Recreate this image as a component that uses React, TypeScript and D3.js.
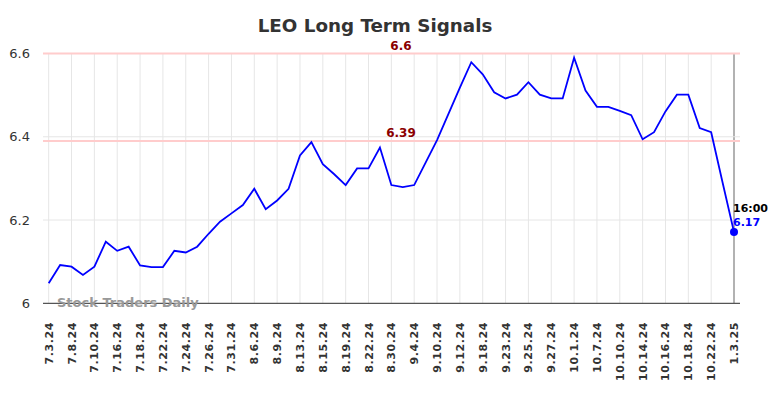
import React, { useEffect, useRef } from "react";
import * as d3 from "d3";

const title = "LEO Long Term Signals";

// one label for every other point
const tickLabels = [
  "7.3.24", "7.8.24", "7.10.24", "7.16.24", "7.18.24", "7.22.24", "7.24.24", "7.26.24",
  "7.31.24", "8.6.24", "8.9.24", "8.13.24", "8.15.24", "8.19.24", "8.22.24", "8.30.24",
  "9.4.24", "9.10.24", "9.12.24", "9.18.24", "9.23.24", "9.25.24", "9.27.24", "10.1.24",
  "10.7.24", "10.10.24", "10.14.24", "10.16.24", "10.18.24", "10.22.24", "1.3.25",
];

const prices = [
  6.048, 6.092, 6.088, 6.068, 6.088, 6.148, 6.126, 6.136, 6.091, 6.087,
  6.087, 6.126, 6.122, 6.136, 6.167, 6.196, 6.216, 6.236, 6.275, 6.226,
  6.247, 6.275, 6.355, 6.387, 6.334, 6.31, 6.284, 6.324, 6.324, 6.374,
  6.284, 6.279, 6.284, 6.338, 6.392, 6.455, 6.518, 6.579, 6.55, 6.507,
  6.492, 6.501, 6.531, 6.501, 6.492, 6.492, 6.59, 6.511, 6.472, 6.472,
  6.462, 6.452, 6.394, 6.411, 6.461, 6.501, 6.501, 6.421, 6.411, 6.29,
  6.171,
];

const yTicks = [6, 6.2, 6.4, 6.6];
const signals = [6.6, 6.39];
const lastTime = "16:00";
const lastPrice = "6.17";

export default function App() {
  const svgRef = useRef<SVGSVGElement>(null);

  useEffect(() => {
    const svg = d3.select(svgRef.current);
    svg.selectAll("*").remove();

    const left = 43, right = 740, top = 53.5, bottom = 303.3;

    const x = d3.scaleLinear().domain([0, prices.length - 1]).range([48.7, 734]);
    const y = d3.scaleLinear().domain([6, 6.6]).range([bottom, top]);

    // title
    svg.append("text")
      .attr("x", 375).attr("y", 32)
      .attr("text-anchor", "middle")
      .style("font-family", "DejaVu Sans, sans-serif")
      .style("font-size", "18.3px").style("font-weight", "bold")
      .attr("fill", "#333")
      .text(title);

    // vertical grid
    svg.append("g").selectAll("line")
      .data(tickLabels)
      .enter().append("line")
      .attr("x1", (d, i) => x(i * 2)).attr("x2", (d, i) => x(i * 2))
      .attr("y1", top).attr("y2", bottom)
      .attr("stroke", (d, i) => i === tickLabels.length - 1 ? "#999" : "#e6e6e6")
      .attr("stroke-width", (d, i) => i === tickLabels.length - 1 ? 1.5 : 1);

    // horizontal grid
    svg.append("g").selectAll("line")
      .data(yTicks.filter(t => t > 6))
      .enter().append("line")
      .attr("x1", left).attr("x2", right)
      .attr("y1", d => y(d)).attr("y2", d => y(d))
      .attr("stroke", "#e6e6e6");

    // signal lines
    svg.append("g").selectAll("line")
      .data(signals)
      .enter().append("line")
      .attr("x1", left).attr("x2", right)
      .attr("y1", d => y(d)).attr("y2", d => y(d))
      .attr("stroke", "#ffcccc").attr("stroke-width", 2);

    svg.append("g").selectAll("text")
      .data(signals)
      .enter().append("text")
      .attr("x", 401).attr("y", d => y(d) - 4)
      .attr("text-anchor", "middle")
      .style("font-family", "DejaVu Sans, sans-serif")
      .style("font-size", "12px").style("font-weight", "bold")
      .attr("fill", "#8b0000")
      .text(d => d);

    // x axis line
    svg.append("line")
      .attr("x1", left).attr("x2", right)
      .attr("y1", bottom).attr("y2", bottom)
      .attr("stroke", "#555").attr("stroke-width", 1.2);

    // y tick labels
    svg.append("g").selectAll("text")
      .data(yTicks)
      .enter().append("text")
      .attr("x", 30).attr("y", d => y(d))
      .attr("dy", "0.35em")
      .attr("text-anchor", "end")
      .style("font-family", "DejaVu Sans, sans-serif")
      .style("font-size", "13px")
      .attr("fill", "#333")
      .text(d => d3.format("~g")(d));

    // x tick labels
    svg.append("g").selectAll("text")
      .data(tickLabels)
      .enter().append("text")
      .attr("transform", (d, i) => `translate(${x(i * 2) + 4},322) rotate(-90)`)
      .attr("text-anchor", "end")
      .style("font-family", "DejaVu Sans, sans-serif")
      .style("font-size", "11px").style("font-weight", "bold")
      .style("letter-spacing", "0.6px")
      .attr("fill", "#333")
      .text(d => d);

    // watermark
    svg.append("text")
      .attr("x", 57).attr("y", 307)
      .style("font-family", "DejaVu Sans, sans-serif")
      .style("font-size", "13px").style("font-weight", "bold")
      .attr("fill", "#999")
      .text("Stock Traders Daily");

    // price line
    const line = d3.line<number>()
      .x((d, i) => x(i))
      .y(d => y(d));

    svg.append("path")
      .datum(prices)
      .attr("d", line)
      .attr("fill", "none")
      .attr("stroke", "#0000ff")
      .attr("stroke-width", 1.8);

    const li = prices.length - 1;
    svg.append("circle")
      .attr("cx", x(li)).attr("cy", y(prices[li]))
      .attr("r", 4)
      .attr("fill", "#0000ff");

    svg.append("text")
      .attr("x", x(li) - 1).attr("y", y(prices[li]) - 20)
      .style("font-family", "DejaVu Sans, sans-serif")
      .style("font-size", "11px").style("font-weight", "bold")
      .attr("fill", "#000")
      .text(lastTime);

    svg.append("text")
      .attr("x", x(li) - 1).attr("y", y(prices[li]) - 6)
      .style("font-family", "DejaVu Sans, sans-serif")
      .style("font-size", "11px").style("font-weight", "bold")
      .attr("fill", "#0000ff")
      .text(lastPrice);
  }, []);

  return (
    <svg
      ref={svgRef}
      width={784}
      height={398}
      style={{ position: "absolute", left: 0, top: 0, background: "#fff" }}
    />
  );
}
